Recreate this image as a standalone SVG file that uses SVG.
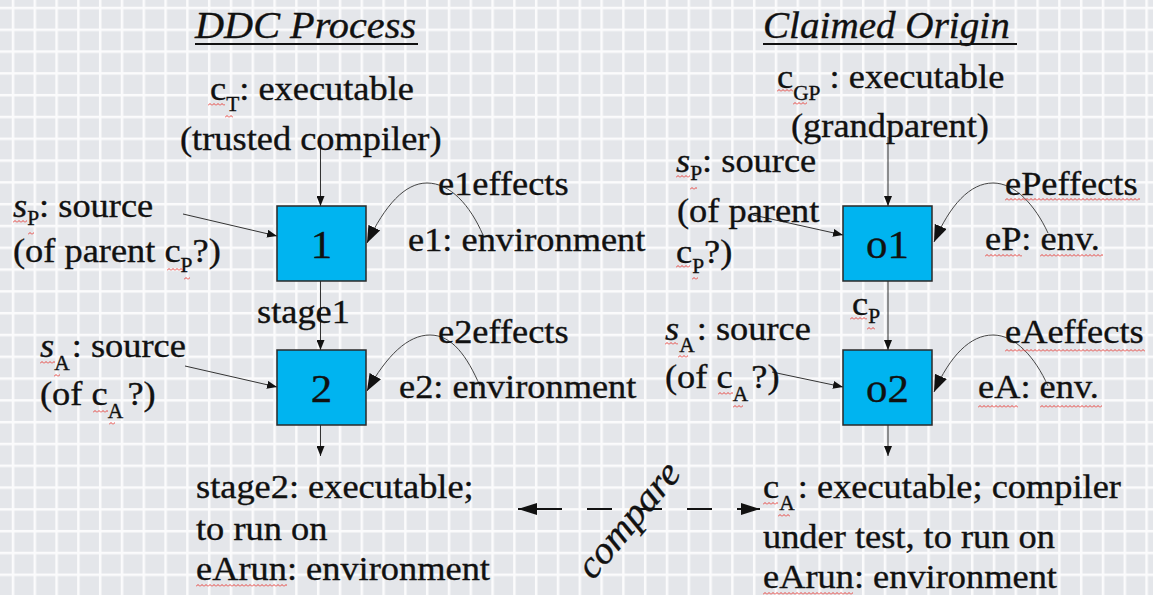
<svg xmlns="http://www.w3.org/2000/svg" width="1153" height="595" viewBox="0 0 1153 595">
<style>
text{font-family:"Liberation Serif","Times New Roman",serif;fill:#111;stroke:#111;stroke-width:0.35px;}
.t{font-size:34px;}
.sub{font-size:20px;}
.bx{fill:#00b4f0;stroke:#2a2a2a;stroke-width:1.5;}
.num{font-size:40px;text-anchor:middle;}
.ttl{font-size:38px;font-style:italic;}
.ln{fill:none;stroke:#333;stroke-width:1;}
.cv{fill:none;stroke:#444;stroke-width:1;}
.cmp{fill:none;stroke:#111;stroke-width:1.8;}
.ul{stroke:#111;stroke-width:2;}
</style>
<defs>
<pattern id="grid" x="11.75" y="6.75" width="21.8" height="21.8" patternUnits="userSpaceOnUse">
<rect width="21.8" height="21.8" fill="#e4e6ea"/>
<rect x="0" y="0" width="2.5" height="21.8" fill="#fbfbfc"/>
<rect x="0" y="0" width="21.8" height="2.5" fill="#fbfbfc"/>
</pattern>
<pattern id="sq" width="4" height="3" patternUnits="userSpaceOnUse">
<path d="M0,2.5 L2,0.5 L4,2.5" fill="none" stroke="#e8302a" stroke-width="0.9"/>
</pattern>
<marker id="sm" viewBox="0 0 10 8" refX="10" refY="4" markerWidth="10" markerHeight="8" markerUnits="userSpaceOnUse" orient="auto">
<path d="M0,0 L10,4 L0,8 z" fill="#111"/>
</marker>
<marker id="big" viewBox="0 0 17 13" refX="17" refY="6.5" markerWidth="17" markerHeight="13" markerUnits="userSpaceOnUse" orient="auto">
<path d="M0,0 L17,6.5 L0,13 z" fill="#111"/>
</marker>
<marker id="cmpE" viewBox="0 0 19 12" refX="19" refY="6" markerWidth="19" markerHeight="12" markerUnits="userSpaceOnUse" orient="auto">
<path d="M0,0 L19,6 L0,12 z" fill="#111"/>
</marker>
<marker id="cmpS" viewBox="0 0 19 12" refX="0" refY="6" markerWidth="19" markerHeight="12" markerUnits="userSpaceOnUse" orient="auto">
<path d="M19,0 L0,6 L19,12 z" fill="#111"/>
</marker>
</defs>
<rect width="1153" height="595" fill="url(#grid)"/>

<g id="titles">
<text class="ttl" transform="translate(195,38) scale(1.06,1)">DDC Process</text>
<line class="ul" x1="195" y1="44" x2="418" y2="44"/>
<text class="ttl" transform="translate(763,38) scale(1.03,1)">Claimed Origin</text>
<line class="ul" x1="763" y1="44" x2="1017" y2="44"/>
</g>

<g id="connectors">
<path class="ln" d="M320.5,140 L320.5,206" marker-end="url(#sm)"/>
<path class="ln" d="M183,214 L277,236" marker-end="url(#sm)"/>
<path class="ln" d="M320.5,281 L320.5,350" marker-end="url(#sm)"/>
<path class="ln" d="M185,366 L277,387" marker-end="url(#sm)"/>
<path class="ln" d="M320.5,425 L320.5,456" marker-end="url(#sm)"/>
<path class="ln" d="M888,137 L888,206" marker-end="url(#sm)"/>
<path class="ln" d="M753,215 L843,235" marker-end="url(#sm)"/>
<path class="ln" d="M888,281 L888,350" marker-end="url(#sm)"/>
<path class="ln" d="M772,372 L843,387" marker-end="url(#sm)"/>
<path class="ln" d="M888,425 L888,456" marker-end="url(#sm)"/>
<path class="cv" d="M483,235 C470,205 450,183 427,183 C405,183 385,205 367,243" marker-end="url(#big)"/>
<path class="cv" d="M480,386 C467,356 452,335 430,335 C408,335 387,355 367,391" marker-end="url(#big)"/>
<path class="cv" d="M1048,233 C1035,205 1015,183 993,183 C970,183 950,205 934,242" marker-end="url(#big)"/>
<path class="cv" d="M1048,386 C1035,357 1015,335 993,335 C970,335 950,356 934,392" marker-end="url(#big)"/>
<path class="cmp" d="M518,509 L760,509" stroke-dasharray="44 25 25 25 25 25 25 25 30" marker-start="url(#cmpS)" marker-end="url(#cmpE)"/>
</g>

<g id="box1">
<rect class="bx" x="277" y="206" width="89" height="75"/>
<text class="num" transform="translate(321.5,258) scale(1.07,1)">1</text>
</g>
<g id="box2">
<rect class="bx" x="277" y="350" width="89" height="75"/>
<text class="num" transform="translate(321.5,402) scale(1.07,1)">2</text>
</g>
<g id="o1">
<rect class="bx" x="843" y="206" width="89" height="75"/>
<text class="num" transform="translate(887.5,258) scale(1.07,1)">o1</text>
</g>
<g id="o2">
<rect class="bx" x="843" y="350" width="89" height="75"/>
<text class="num" transform="translate(887.5,402) scale(1.07,1)">o2</text>
</g>

<g id="left-labels">
<text class="t" transform="translate(210,100) scale(1.07,1)">c<tspan class="sub" dy="11">T</tspan><tspan dy="-11">: executable</tspan></text>
<text class="t" transform="translate(180,150) scale(1.07,1)">(trusted compiler)</text>
<text class="t" transform="translate(13,217) scale(1.07,1)"><tspan font-style="italic">s</tspan><tspan class="sub" dy="8">P</tspan><tspan dy="-8">: source</tspan></text>
<text class="t" transform="translate(13,262) scale(1.07,1)">(of parent c<tspan class="sub" dy="10">P</tspan><tspan dy="-10">?)</tspan></text>
<text class="t" transform="translate(438,195) scale(1.07,1)">e1effects</text>
<text class="t" transform="translate(408,251) scale(1.07,1)">e1: environment</text>
<text class="t" transform="translate(257,323) scale(1.07,1)">stage1</text>
<text class="t" transform="translate(40,357) scale(1.07,1)"><tspan font-style="italic">s</tspan><tspan class="sub" dy="13">A</tspan><tspan dy="-13" dx="2">: source</tspan></text>
<text class="t" transform="translate(40,405) scale(1.07,1)">(of c<tspan class="sub" dy="13">A</tspan><tspan dy="-13" dx="4">?)</tspan></text>
<text class="t" transform="translate(438,343) scale(1.07,1)">e2effects</text>
<text class="t" transform="translate(399,398) scale(1.07,1)">e2: environment</text>
<text class="t" transform="translate(196,498) scale(1.07,1)">stage2: executable;</text>
<text class="t" transform="translate(196,540) scale(1.07,1)">to run on</text>
<text class="t" transform="translate(196,580) scale(1.07,1)">eArun: environment</text>
</g>

<g id="right-labels">
<text class="t" transform="translate(777,88) scale(1.07,1)">c<tspan class="sub" dy="12">GP</tspan><tspan dy="-12"> : executable</tspan></text>
<text class="t" transform="translate(791,137) scale(1.07,1)">(grandparent)</text>
<text class="t" transform="translate(676,172) scale(1.07,1)"><tspan font-style="italic">s</tspan><tspan class="sub" dy="8">P</tspan><tspan dy="-8">: source</tspan></text>
<text class="t" transform="translate(677,222) scale(1.07,1)">(of parent</text>
<text class="t" transform="translate(676,263) scale(1.07,1)">c<tspan class="sub" dy="10">P</tspan><tspan dy="-10">?)</tspan></text>
<text class="t" transform="translate(1005,195) scale(1.07,1)">ePeffects</text>
<text class="t" transform="translate(985,250) scale(1.07,1)">eP: env.</text>
<text class="t" transform="translate(852,315) scale(1.07,1)">c<tspan class="sub" dy="8">P</tspan></text>
<text class="t" transform="translate(665,340) scale(1.07,1)"><tspan font-style="italic">s</tspan><tspan class="sub" dy="12">A</tspan><tspan dy="-12" dx="2">: source</tspan></text>
<text class="t" transform="translate(665,388) scale(1.07,1)">(of c<tspan class="sub" dy="13">A</tspan><tspan dy="-13" dx="3">?)</tspan></text>
<text class="t" transform="translate(1005,343) scale(1.07,1)">eAeffects</text>
<text class="t" transform="translate(978,398) scale(1.07,1)">eA: env.</text>
<text class="t" transform="translate(763,498) scale(1.07,1)">c<tspan class="sub" dy="12">A</tspan><tspan dy="-12" dx="3">: executable; compiler</tspan></text>
<text class="t" transform="translate(763,548) scale(1.07,1)">under test, to run on</text>
<text class="t" transform="translate(763,588) scale(1.07,1)">eArun: environment</text>
</g>

<g id="compare-label">
<text class="ttl" font-size="36" transform="translate(593,581) rotate(-50) scale(1.06,1)">compare</text>
</g>

<g id="spell-marks">
<rect transform="translate(208,103)" width="17" height="3" fill="url(#sq)"/>
<rect transform="translate(225,115)" width="8" height="3" fill="url(#sq)"/>
<rect transform="translate(13,220)" width="14" height="3" fill="url(#sq)"/>
<rect transform="translate(28,232)" width="6" height="3" fill="url(#sq)"/>
<rect transform="translate(167,268)" width="16" height="3" fill="url(#sq)"/>
<rect transform="translate(184,277)" width="6" height="3" fill="url(#sq)"/>
<rect transform="translate(40,361)" width="15" height="3" fill="url(#sq)"/>
<rect transform="translate(54,374)" width="6" height="3" fill="url(#sq)"/>
<rect transform="translate(93,410)" width="15" height="3" fill="url(#sq)"/>
<rect transform="translate(109,422)" width="6" height="3" fill="url(#sq)"/>
<rect transform="translate(196,584)" width="91" height="3" fill="url(#sq)"/>
<rect transform="translate(777,89)" width="16" height="3" fill="url(#sq)"/>
<rect transform="translate(793,102)" width="14" height="3" fill="url(#sq)"/>
<rect transform="translate(676,175)" width="14" height="3" fill="url(#sq)"/>
<rect transform="translate(690,187)" width="7" height="3" fill="url(#sq)"/>
<rect transform="translate(676,265)" width="14" height="3" fill="url(#sq)"/>
<rect transform="translate(692,277)" width="6" height="3" fill="url(#sq)"/>
<rect transform="translate(1005,198)" width="135" height="3" fill="url(#sq)"/>
<rect transform="translate(985,254)" width="37" height="3" fill="url(#sq)"/>
<rect transform="translate(1040,254)" width="63" height="3" fill="url(#sq)"/>
<rect transform="translate(850,317)" width="17" height="3" fill="url(#sq)"/>
<rect transform="translate(867,327)" width="8" height="3" fill="url(#sq)"/>
<rect transform="translate(665,342)" width="13" height="3" fill="url(#sq)"/>
<rect transform="translate(678,355)" width="10" height="3" fill="url(#sq)"/>
<rect transform="translate(718,392)" width="15" height="3" fill="url(#sq)"/>
<rect transform="translate(733,405)" width="10" height="3" fill="url(#sq)"/>
<rect transform="translate(1005,349)" width="140" height="3" fill="url(#sq)"/>
<rect transform="translate(978,405)" width="40" height="3" fill="url(#sq)"/>
<rect transform="translate(1040,405)" width="62" height="3" fill="url(#sq)"/>
<rect transform="translate(763,502)" width="15" height="3" fill="url(#sq)"/>
<rect transform="translate(778,514)" width="12" height="3" fill="url(#sq)"/>
<rect transform="translate(763,592)" width="90" height="3" fill="url(#sq)"/>
</g>
</svg>
